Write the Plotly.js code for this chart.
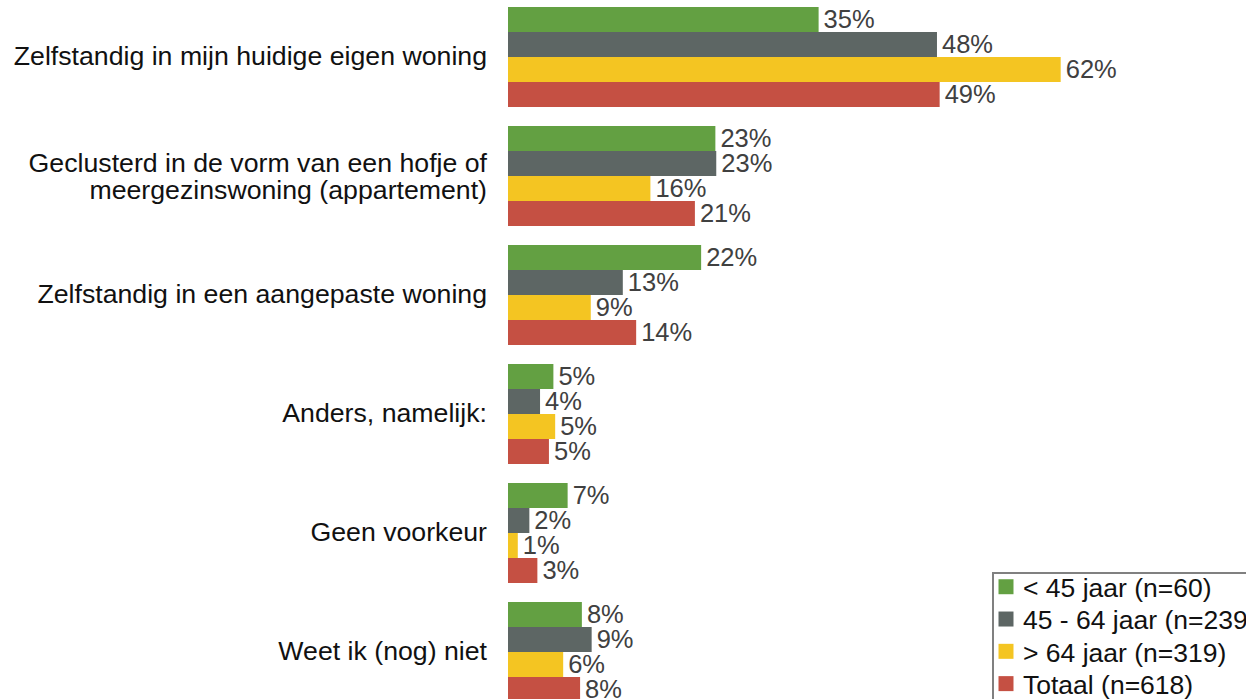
<!DOCTYPE html>
<html>
<head>
<meta charset="utf-8">
<script src="https://cdn.plot.ly/plotly-3.0.1.min.js"></script>
<style>html,body{margin:0;padding:0;background:#fff;}#chart{width:1246px;height:699px;}</style>
</head>
<body>
<div id="chart"></div>
<script>
const categories = [
  "Zelfstandig in mijn huidige eigen woning",
  "Geclusterd in de vorm van een hofje of<br>meergezinswoning (appartement)",
  "Zelfstandig in een aangepaste woning",
  "Anders, namelijk:",
  "Geen voorkeur",
  "Weet ik (nog) niet"
];
const seriesNames = ["< 45 jaar (n=60)", "45 - 64 jaar (n=239)", "> 64 jaar (n=319)", "Totaal (n=618)"];
const under45 = [34.9, 23.3, 21.7, 5.1, 6.7, 8.3];
const age45to64 = [48.2, 23.4, 12.9, 3.6, 2.4, 9.4];
const over64 = [62.1, 16.0, 9.3, 5.3, 1.1, 6.2];
const totaal = [48.5, 21.0, 14.4, 4.6, 3.3, 8.1];
const seriesValues = [under45, age45to64, over64, totaal];
const colors = ["#63A042", "#5D6664", "#F4C522", "#C55043"];
const FONT = "Liberation Sans, Arial, sans-serif";

const traces = seriesValues.map((vals, i) => ({
  type: "bar",
  orientation: "h",
  name: seriesNames[i],
  x: vals,
  y: categories,
  marker: {color: colors[i]},
  text: vals.map(v => Math.round(v) + "%"),
  textposition: "outside",
  constraintext: "none",
  cliponaxis: false,
  textfont: {family: FONT, size: 25.5, color: "#404040"},
  hoverinfo: "none"
}));

const W = 1246, H = 699, L = 508;
const pxPerPct = 8.9;
const layout = {
  width: W, height: H,
  margin: {l: L, r: 0, t: 0, b: 0, autoexpand: false},
  paper_bgcolor: "#fff", plot_bgcolor: "#fff",
  barmode: "group", bargap: 19/119, bargroupgap: 0,
  uniformtext: {mode: false},
  font: {family: FONT, size: 26, color: "#111"},
  xaxis: {range: [0, (W - L) / pxPerPct], visible: false, showgrid: false, zeroline: false, fixedrange: true},
  yaxis: {
    type: "category",
    range: [(H - 57) / 119, -57 / 119],
    showgrid: false, zeroline: false, showline: false,
    ticks: "", ticklabelstandoff: 20,
    tickfont: {family: FONT, size: 26.7, color: "#111"},
    automargin: false, fixedrange: true
  },
  showlegend: true,
  legend: {
    x: (992 - L) / (W - L), xanchor: "left",
    y: 1 - 572 / H, yanchor: "top",
    traceorder: "normal",
    bgcolor: "#fff", bordercolor: "#808080", borderwidth: 2,
    font: {family: FONT, size: 26.5, color: "#111"},
    itemwidth: 30
  }
};
Plotly.newPlot("chart", traces, layout, {displayModeBar: false, staticPlot: true}).then(gd => {
  // tighten line spacing of multi-line category labels
  gd.querySelectorAll(".ytick text").forEach(t => {
    const lines = t.querySelectorAll("tspan.line");
    if (lines.length === 2) {
      lines[0].setAttribute("dy", "0.14em");
      lines[1].setAttribute("dy", "1.16em");
    }
    t.setAttribute("dy", "-1");
  });
  // small extra gap between bar end and value label
  gd.querySelectorAll(".bartext").forEach(t => {
    t.setAttribute("dx", "2");
    t.setAttribute("dy", "-1");
  });
  // legend: tighter rows, larger symbols, shifted left
  const items = gd.querySelectorAll(".legend .traces");
  let y0 = null;
  items.forEach((g, i) => {
    const m = /translate\(\s*([-\d.]+)[ ,]+([-\d.]+)\s*\)/.exec(g.getAttribute("transform") || "");
    if (!m) return;
    const x = parseFloat(m[1]), y = parseFloat(m[2]);
    if (y0 === null) y0 = y - 11;
    g.setAttribute("transform", "translate(" + (x - 11) + "," + (y0 + i * 32.3) + ")");
  });
  gd.querySelectorAll(".legend .legendpoints path").forEach(p => {
    p.setAttribute("d", "M7.5,7.5H-7.5V-7.5H7.5Z");
    p.setAttribute("transform", "translate(23,0)");
  });
});
</script>
</body>
</html>
